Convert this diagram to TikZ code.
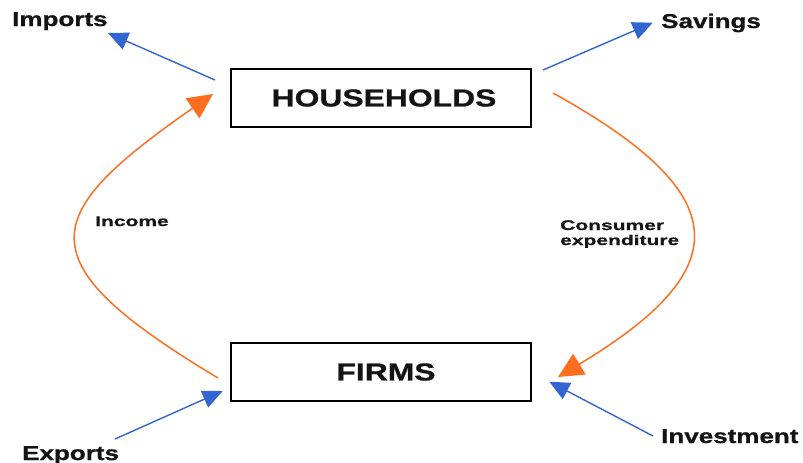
\documentclass[tikz,border=0pt]{standalone}
\usepackage{fontspec}
\usetikzlibrary{arrows.meta}
\newfontfamily\bigf{Liberation Sans}[FakeStretch=1.3,FakeBold=0.8]
\newfontfamily\smallf{Liberation Sans}[FakeStretch=1.5,FakeBold=0.6]
\definecolor{flowblue}{RGB}{50,100,210}
\definecolor{floworange}{RGB}{255,110,30}
\definecolor{txt}{RGB}{20,20,20}
\tikzset{
  sector/.style={draw=black, line width=1.8pt, minimum width=300pt, minimum height=58pt,
    inner sep=0pt, font=\bigf\bfseries\fontsize{24.5}{28}\selectfont, text=txt},
  biglbl/.style={anchor=base west, inner sep=0pt, font=\bigf\bfseries\fontsize{20}{24}\selectfont, text=txt},
  smalllbl/.style={anchor=base west, inner sep=0pt, align=left, font=\smallf\bfseries\fontsize{14}{15}\selectfont, text=txt},
  leak/.style={draw=flowblue, line width=1.4pt, -{Triangle[length=20pt,width=18pt]}},
  circ/.style={draw=floworange, line width=1.5pt, -{Triangle[length=25pt,width=24pt]}}
}
\begin{document}
\begin{tikzpicture}[x=1pt,y=-1pt]
\useasboundingbox (0,0) rectangle (803,463);
\node[sector] (hh) at (381,98) {\hspace*{6pt}HOUSEHOLDS};
\node[sector] (fi) at (381,372) {\hspace*{10pt}FIRMS};
\node[biglbl] (imp) at (12,26) {Imports};
\node[biglbl] (sav) at (661,28) {Savings};
\node[biglbl] (exp) at (22,460) {Exports};
\node[biglbl] (inv) at (661,443) {Investment};
\node[smalllbl] (inc) at (95,226) {Income};
\node[smalllbl] (ce) at (560,245) {Consumer\\expenditure};
% connector ends
\coordinate (impS) at (215,80);
\coordinate (impE) at (108,33);
\coordinate (savS) at (543,70);
\coordinate (savE) at (652.7,22.7);
\coordinate (expS) at (115,439);
\coordinate (expE) at (222.7,391);
\coordinate (invS) at (653,436);
\coordinate (invE) at (549.3,381.7);
\coordinate (incS) at (218,378);
\coordinate (incE) at (213,94);
\coordinate (ceS) at (553,93);
\coordinate (ceE) at (558,377);
\draw[leak] (impS) -- (impE);
\draw[leak] (savS) -- (savE);
\draw[leak] (expS) -- (expE);
\draw[leak] (invS) -- (invE);
\draw[circ] (incS) .. controls (23,261) and (38,216) .. (incE);
\draw[circ] (ceS) .. controls (735,194) and (739,268) .. (ceE);
\end{tikzpicture}
\end{document}
